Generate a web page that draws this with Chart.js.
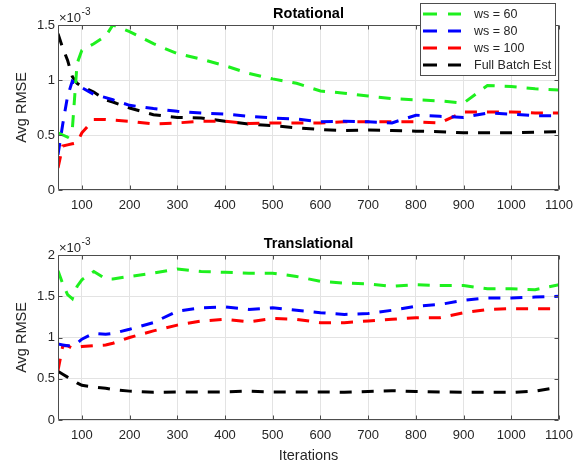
<!DOCTYPE html>
<html>
<head>
<meta charset="utf-8">
<script src="https://cdn.jsdelivr.net/npm/chart.js@4"></script>
<style>
  html, body { margin: 0; padding: 0; background: #fff; }
  #wrap { position: relative; width: 585px; height: 466px; background: #fff; overflow: hidden; }
  canvas { position: absolute; left: 0; }
</style>
</head>
<body>
<div id="wrap">
  <canvas id="c1" width="585" height="225" style="top:0"></canvas>
  <canvas id="c2" width="585" height="236" style="top:230px"></canvas>
</div>
<script>
// ---- data (values in units of 1e-3) ----
const iterations = [50,60,70,80,90,100,125,150,165,200,250,300,350,400,450,500,550,600,650,700,750,800,850,900,950,1000,1050,1100];

const rotWs60  = [0.52,0.50,0.48,0.55,1.15,1.27,1.33,1.40,1.50,1.44,1.33,1.24,1.19,1.13,1.06,1.01,0.97,0.90,0.88,0.855,0.83,0.82,0.81,0.79,0.95,0.94,0.92,0.91];
const rotWs80  = [0.32,0.60,0.85,0.99,0.96,0.93,0.87,0.84,0.82,0.77,0.74,0.715,0.70,0.69,0.67,0.655,0.645,0.62,0.625,0.62,0.61,0.68,0.67,0.66,0.70,0.69,0.675,0.675];
const rotWs100 = [0.20,0.40,0.41,0.42,0.43,0.52,0.64,0.64,0.635,0.625,0.60,0.61,0.624,0.625,0.605,0.61,0.61,0.61,0.62,0.62,0.62,0.62,0.61,0.71,0.71,0.71,0.70,0.70];
const rotFull  = [1.42,1.29,1.18,1.03,0.97,0.94,0.89,0.82,0.80,0.745,0.685,0.66,0.655,0.625,0.60,0.585,0.565,0.55,0.54,0.545,0.54,0.535,0.53,0.52,0.52,0.52,0.525,0.53];

const trWs60  = [1.81,1.65,1.52,1.47,1.62,1.70,1.80,1.71,1.71,1.74,1.78,1.83,1.80,1.79,1.78,1.78,1.74,1.68,1.66,1.65,1.62,1.64,1.63,1.63,1.59,1.59,1.58,1.64];
const trWs80  = [0.92,0.91,0.90,0.90,0.93,0.98,1.05,1.04,1.05,1.10,1.18,1.32,1.36,1.37,1.34,1.36,1.33,1.30,1.28,1.29,1.33,1.38,1.40,1.45,1.48,1.48,1.49,1.50];
const trWs100 = [0.60,0.90,0.90,0.87,0.88,0.89,0.90,0.91,0.93,1.00,1.08,1.15,1.20,1.22,1.19,1.23,1.22,1.18,1.18,1.20,1.22,1.24,1.24,1.30,1.34,1.35,1.35,1.35];
const trFull  = [0.59,0.555,0.52,0.49,0.45,0.42,0.40,0.385,0.37,0.35,0.335,0.34,0.34,0.34,0.35,0.34,0.34,0.34,0.335,0.345,0.355,0.345,0.34,0.335,0.335,0.335,0.35,0.40];

const seriesNames = ['ws = 60', 'ws = 80', 'ws = 100', 'Full Batch Est'];
const seriesColors = ['#1ef01e', '#0000ff', '#ff0000', '#000000'];

const xTicks = [100,200,300,400,500,600,700,800,900,1000,1100];
const yTicksRot = [0, 0.5, 1, 1.5];
const yTicksTr = [0, 0.5, 1, 1.5, 2];
const exponentLabel = ['\u00d710', '-3'];

const FONT = "'Liberation Sans', Arial, Helvetica, sans-serif";
const TXT = '#262626';

function pts(ys) { return iterations.map((x, i) => ({ x: x, y: ys[i] })); }

const framePlugin = {
  id: 'frame',
  afterDatasetsDraw(chart) {
    const { ctx, chartArea: a, scales } = chart;
    ctx.save();
    ctx.strokeStyle = '#4d4d4d';
    ctx.lineWidth = 1;
    ctx.beginPath();
    const L = Math.round(a.left) + 0.5, R = Math.round(a.right) - 0.5;
    const T = Math.round(a.top) + 0.5, B = Math.round(a.bottom) - 0.5;
    ctx.rect(L, T, R - L, B - T);
    // inward tick marks
    const tl = 4;
    scales.y.ticks.forEach(t => {
      const y = Math.round(scales.y.getPixelForValue(t.value)) + 0.5;
      ctx.moveTo(L, y); ctx.lineTo(L + tl, y);
      ctx.moveTo(R, y); ctx.lineTo(R - tl, y);
    });
    scales.x.ticks.forEach(t => {
      const x = Math.round(scales.x.getPixelForValue(t.value)) + 0.5;
      ctx.moveTo(x, B); ctx.lineTo(x, B - tl);
      ctx.moveTo(x, T); ctx.lineTo(x, T + tl);
    });
    ctx.stroke();
    // exponent label
    ctx.fillStyle = TXT;
    ctx.textBaseline = 'alphabetic';
    ctx.textAlign = 'left';
    ctx.font = '13px ' + FONT;
    const x0 = a.left + 1;
    ctx.fillText(exponentLabel[0], x0, 22);
    const w = ctx.measureText(exponentLabel[0]).width;
    ctx.font = '10px ' + FONT;
    ctx.fillText(exponentLabel[1], x0 + w + 0.5, 15);
    ctx.restore();
  }
};

const legendPlugin = {
  id: 'boxLegend',
  afterDraw(chart, args, opts) {
    if (!opts || !opts.show) return;
    const ctx = chart.ctx;
    ctx.save();
    const bx = 420.5, by = 3.5, bw = 135, bh = 72;
    ctx.fillStyle = '#ffffff';
    ctx.fillRect(bx, by, bw, bh);
    ctx.strokeStyle = '#4d4d4d';
    ctx.lineWidth = 1;
    ctx.strokeRect(bx, by, bw, bh);
    const rows = [14, 31, 48, 65];
    chart.data.datasets.forEach((ds, i) => {
      const y = rows[i];
      ctx.strokeStyle = ds.borderColor;
      ctx.lineWidth = 3;
      ctx.setLineDash([14, 11]);
      ctx.beginPath();
      ctx.moveTo(423, y); ctx.lineTo(461, y);
      ctx.stroke();
      ctx.setLineDash([]);
      ctx.fillStyle = TXT;
      ctx.font = '12.5px ' + FONT;
      ctx.textBaseline = 'middle';
      ctx.textAlign = 'left';
      ctx.fillText(ds.label, 474, y + 0.5);
    });
    ctx.restore();
  }
};

function makeChart(canvasId, title, series, yTicks, yMax, showXTitle, showLegend) {
  const canvas = document.getElementById(canvasId);
  const H = canvas.height;
  return new Chart(canvas, {
    type: 'line',
    data: {
      datasets: series.map((ys, i) => ({
        label: seriesNames[i],
        data: pts(ys),
        borderColor: seriesColors[i],
        backgroundColor: seriesColors[i],
        borderWidth: 3,
        borderDash: [12, 10],
        pointRadius: 0,
        tension: 0,
        fill: false
      }))
    },
    options: {
      responsive: false,
      animation: false,
      devicePixelRatio: 1,
      layout: { padding: { left: 0, right: 26, top: 0, bottom: 0 } },
      plugins: {
        legend: { display: false },
        tooltip: { enabled: false },
        title: {
          display: true,
          text: title,
          fullSize: false,
          color: '#000',
          font: { family: FONT, size: 14.5, weight: 'bold' },
          padding: { top: 5, bottom: 2.6 }
        },
        boxLegend: { show: showLegend }
      },
      scales: {
        x: {
          type: 'linear',
          min: 50,
          max: 1100,
          afterBuildTicks: s => { s.ticks = xTicks.map(v => ({ value: v })); },
          afterFit: s => { s.height = H - 190; },
          ticks: {
            color: TXT,
            font: { family: FONT, size: 13 },
            padding: 8,
            maxRotation: 0,
            autoSkip: false,
            callback: v => String(v)
          },
          grid: { color: '#e3e3e3', lineWidth: 1, drawTicks: false },
          border: { display: false },
          title: {
            display: showXTitle,
            text: 'Iterations',
            color: TXT,
            font: { family: FONT, size: 14.5 },
            padding: { top: 0, bottom: 1 }
          }
        },
        y: {
          type: 'linear',
          min: 0,
          max: yMax,
          afterBuildTicks: s => { s.ticks = yTicks.map(v => ({ value: v })); },
          afterFit: s => { s.width = 58; },
          ticks: {
            color: TXT,
            font: { family: FONT, size: 13 },
            padding: 3,
            callback: v => String(v)
          },
          grid: { color: '#e3e3e3', lineWidth: 1, drawTicks: false },
          border: { display: false },
          title: {
            display: true,
            text: 'Avg RMSE',
            color: TXT,
            font: { family: FONT, size: 14.5 },
            padding: { top: 13, bottom: 0 }
          }
        }
      }
    },
    plugins: [framePlugin, legendPlugin]
  });
}

makeChart('c1', 'Rotational', [rotWs60, rotWs80, rotWs100, rotFull], yTicksRot, 1.5, false, true);
makeChart('c2', 'Translational', [trWs60, trWs80, trWs100, trFull], yTicksTr, 2, true, false);
</script>
</body>
</html>
